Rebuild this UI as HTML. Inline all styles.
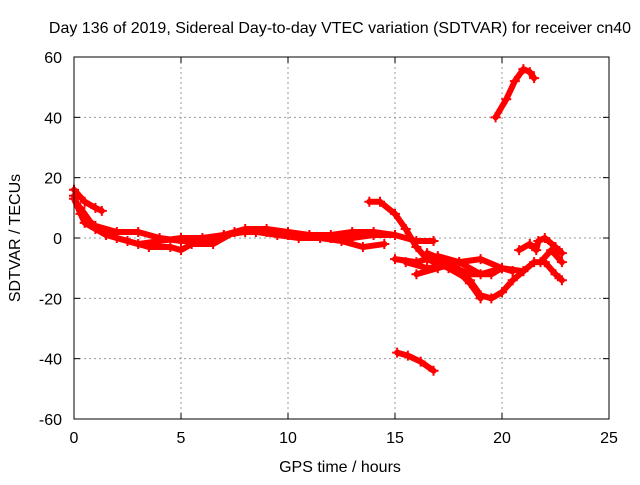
<!DOCTYPE html>
<html><head><meta charset="utf-8"><style>
body{margin:0;background:#fff}
svg{font-family:"Liberation Sans",sans-serif;font-size:16px}
</style></head><body>
<svg id="c" width="640" height="480">
<rect width="640" height="480" fill="#fff"/>
<text x="340" y="33" text-anchor="middle">Day 136 of 2019, Sidereal Day-to-day VTEC variation (SDTVAR) for receiver cn40</text>
<text x="340" y="472" text-anchor="middle">GPS time / hours</text>
<text transform="translate(20,238) rotate(-90)" text-anchor="middle">SDTVAR / TECUs</text>
<g id="grid"></g><g id="marks"></g>
<rect x="74" y="57" width="535" height="362" fill="none" stroke="#000"/>
</svg>
<script>
const xTicks=[0,5,10,15,20,25];
const yTicks=[-60,-40,-20,0,20,40,60];
const trackA=[[0,16],[0.5,12],[1,10],[1.3,9]];
const trackB=[[0,14],[0.3,8],[1,4],[2,2],[3,2],[4,0],[5,-1],[6,-1],[7,1],[8,2],[9,2],[10,1],[11,1],[12,0],[13,0],[14,1],[15,1],[16,-1],[16.8,-1]];
const trackC=[[0,13],[0.5,5],[1.5,1],[2.5,-1],[3.5,-3],[4.5,-3],[5,-4],[5.5,-2],[6.5,-2],[7.5,2],[8.5,2],[9.5,1],[10.5,0],[11.5,0],[12.5,-1],[13.5,-3],[14.5,-2]];
const trackD=[[0.3,10],[1,3],[2,0],[3,-2],[4,-1],[5,0],[6,0],[7,1],[8,3],[9,3],[10,2],[11,1],[12,1],[13,2],[14,2],[15,1]];
const trackE=[[13.8,12],[14.3,12],[15,8],[15.5,3],[16,-3],[16.5,-7],[17.5,-10],[18.5,-14],[19,-19],[19.5,-20],[20,-18],[20.5,-14],[21,-11],[21.5,-8],[22,-8],[22.5,-12],[22.8,-14]];
const trackF=[[15,-7],[16,-8],[17,-6],[18,-8],[19,-7],[20,-10],[20.5,-11]];
const trackG=[[15.5,-8],[16.5,-10],[17.5,-9],[18.5,-12],[19.5,-12],[20,-10],[20.5,-11]];
const trackH=[[16,-12],[17,-10],[18,-8],[19,-12],[20,-10],[21,-11]];
const trackI=[[16.5,-5],[17.5,-8],[18.5,-15],[19,-20]];
const trackJ=[[20.8,-4],[21.3,-2],[21.6,-4],[21.7,-1],[22,0],[22.5,-3],[22.8,-5]];
const trackK=[[21.8,-8],[22.3,-4],[22.8,-8]];
const trackM=[[19.7,40],[20.2,46],[20.6,52],[21,56],[21.3,55],[21.5,53]];
const trackN=[[15.1,-38],[15.6,-39],[16.2,-41],[16.8,-44]];
const tracks=[trackA,trackB,trackC,trackD,trackE,trackF,trackG,trackH,trackI,trackJ,trackK,trackM,trackN];
const X=v=>74+v*535/25, Y=v=>238-v*362/120;
const NS="http://www.w3.org/2000/svg";
const g=document.getElementById('grid'), m=document.getElementById('marks');
function mk(t,a,p){const e=document.createElementNS(NS,t);for(const k in a)e.setAttribute(k,a[k]);p.appendChild(e);return e;}
xTicks.forEach(v=>{
  if(v>0&&v<25){const l=mk('line',{x1:X(v),x2:X(v),y1:57,y2:419,stroke:'#999','stroke-dasharray':'2,3'},g);
  
  }
  mk('line',{x1:X(v),x2:X(v),y1:419,y2:413,stroke:'#000'},g);
  mk('line',{x1:X(v),x2:X(v),y1:57,y2:63,stroke:'#000'},g);
  const t=mk('text',{x:X(v),y:443,'text-anchor':'middle'},g);t.textContent=v;
  
  
});
yTicks.forEach(v=>{
  if(v>-60&&v<60){const l=mk('line',{x1:74,x2:609,y1:Y(v),y2:Y(v),stroke:'#999','stroke-dasharray':'2,3'},g);
  
  }
  mk('line',{x1:74,x2:80,y1:Y(v),y2:Y(v),stroke:'#000'},g);
  mk('line',{x1:609,x2:603,y1:Y(v),y2:Y(v),stroke:'#000'},g);
  const t=mk('text',{x:62,y:Y(v)+6,'text-anchor':'end'},g);t.textContent=v;
  
  
});
tracks.forEach(tr=>{
  const p=mk('polyline',{points:tr.map(d=>X(d[0])+','+Y(d[1])).join(' '),fill:'none',stroke:'#f00','stroke-width':6,'stroke-linejoin':'round','stroke-linecap':'round'},m);
  
  
  tr.forEach(d=>{
    const x=X(d[0]),y=Y(d[1]);
    const q=mk('path',{d:`M${x-5},${y}H${x+5}M${x},${y-5}V${y+5}`,stroke:'#f00','stroke-width':2},m);
    
    
  });
});
</script>
</body></html>
